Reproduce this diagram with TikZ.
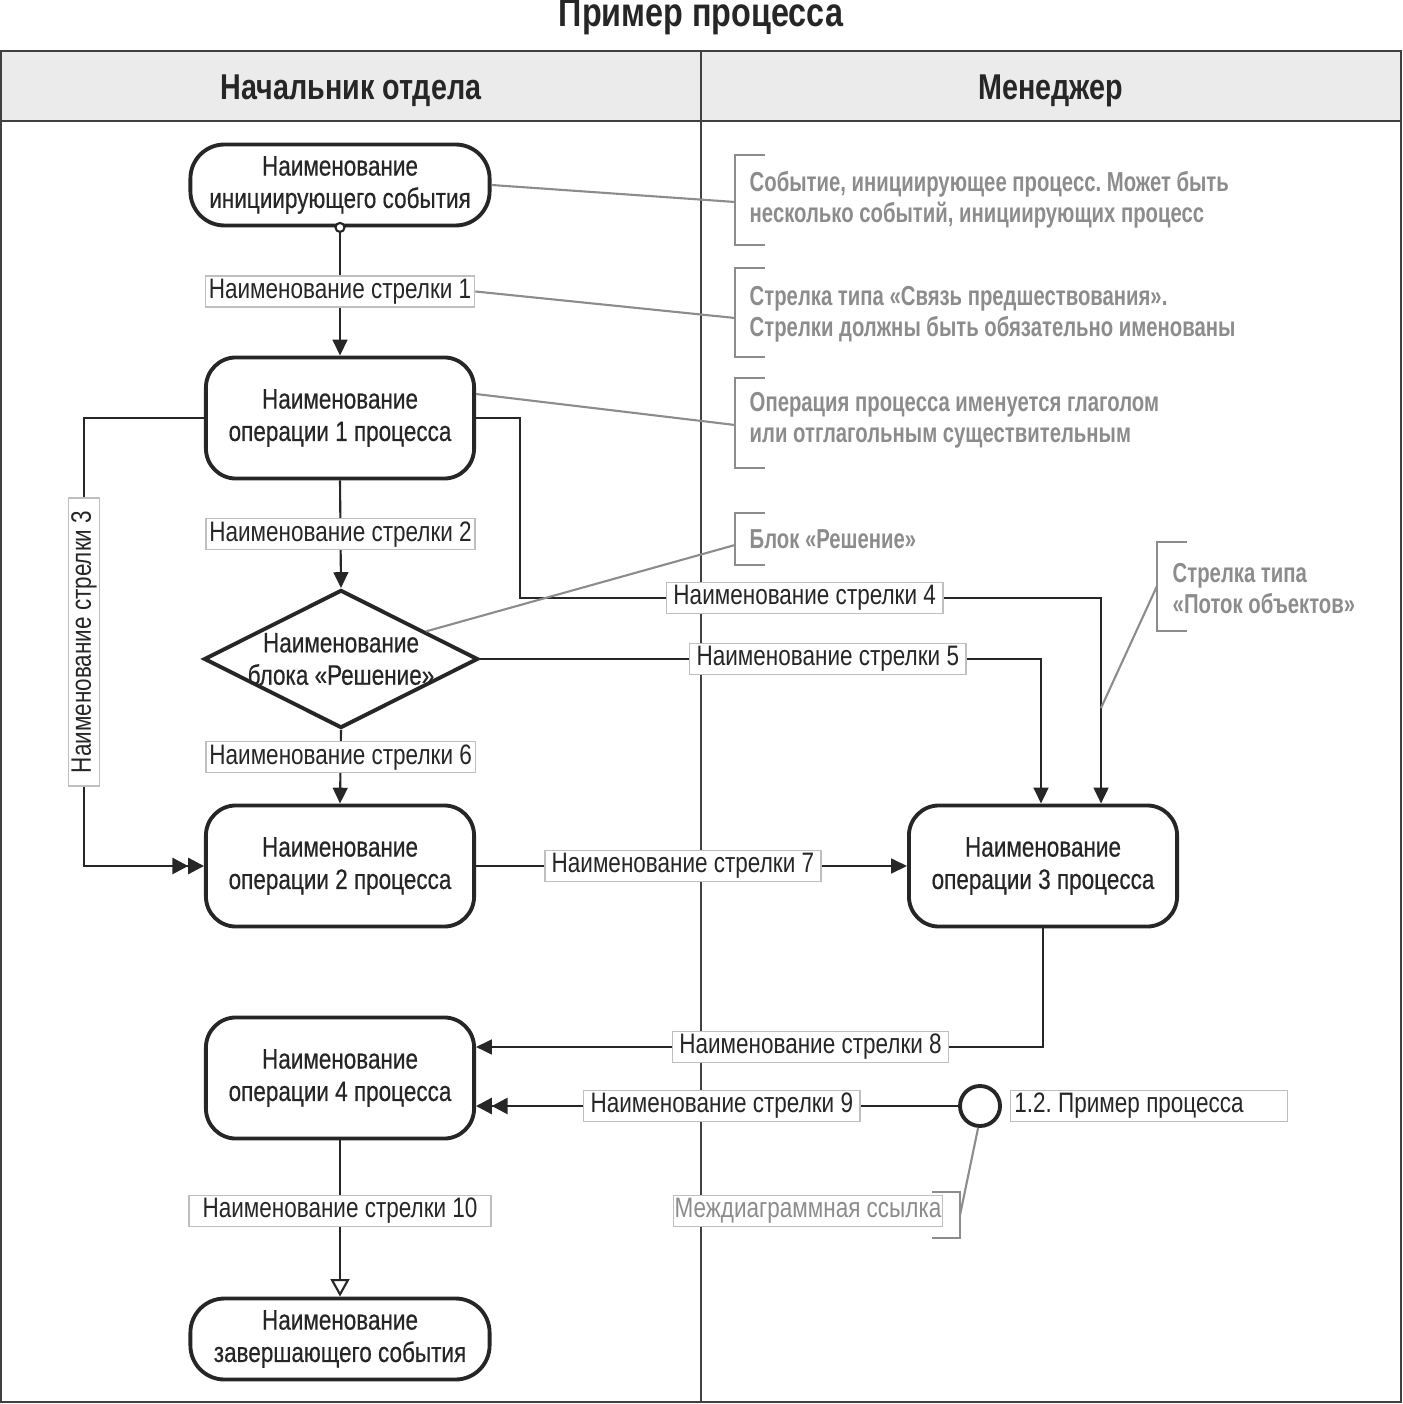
\documentclass[tikz,border=0pt]{standalone}
\usepackage{fontspec}
\setmainfont{Liberation Sans}[FakeStretch=0.8]
\newfontfamily\notefont{Liberation Sans}[FakeStretch=0.74]
\newfontfamily\blockfont{Liberation Sans}[FakeStretch=0.8, FakeBold=0.5]
\usetikzlibrary{arrows.meta, positioning, shapes.geometric, calc}
\frenchspacing

\begin{document}
\begin{tikzpicture}[x=0.01cm, y=-0.01cm,
  every node/.style={font=\fontsize{8}{8.8}\selectfont, align=center, text=black!85},
  proc/.style={draw=black!85, line width=1.1pt, rounded corners=0.3cm, minimum width=2.68cm, minimum height=1.21cm, font=\blockfont\fontsize{8}{9.2}\selectfont},
  event/.style={proc, rounded corners=0.34cm, minimum width=2.99cm, minimum height=0.76cm},
  decision/.style={draw=black!85, diamond, line width=1.1pt, inner sep=-4pt, minimum width=2.74cm, minimum height=1.38cm, aspect=2, font=\blockfont\fontsize{8}{9.2}\selectfont},
  lbl/.style={draw=black!25, fill=white, line width=0.4pt, inner sep=0pt, minimum width=2.76cm, minimum height=0.31cm},
  flow/.style={draw=black!85, line width=0.6pt, -{Triangle[length=4.5pt, width=4.2pt]}},
  flow2/.style={flow, -{Triangle[length=4.5pt, width=4.6pt] Triangle[length=4.5pt, width=4.6pt]}},
  note/.style={anchor=west, align=left, inner sep=0pt, text=black!45, font=\notefont\bfseries\fontsize{7.8}{8.8}\selectfont},
  brk/.style={draw=black!45, line width=0.7pt},
  link/.style={draw=black!45, line width=0.6pt},
  frame/.style={draw=black!75, line width=0.6pt},
  hdr/.style={font=\bfseries\fontsize{10.2}{12}\selectfont}]
  \useasboundingbox (0,0) rectangle (1402,1404);

  % swimlanes
  \node[font=\bfseries\fontsize{11.5}{13}\selectfont, inner sep=0pt] (title) at (701,17) {Пример процесса};
  \fill[black!8] (1,51) rectangle (1401,121);
  \draw[frame] (1,51) rectangle (1401,1402);
  \draw[frame] (1,121) -- (1401,121);
  \draw[frame] (701,51) -- (701,1402);
  \node[hdr] (lane1) at (351,91) {Начальник отдела};
  \node[hdr] (lane2) at (1051,91) {Менеджер};

  % blocks
  \node[event] (start) at (340,185) {Наименование\\инициирующего события};
  \node[proc] (op1) at (340,418) {Наименование\\операции 1 процесса};
  \node[decision] (dec) at (341,659) {Наименование\\блока «Решение»};
  \node[proc] (op2) at (340,866) {Наименование\\операции 2 процесса};
  \node[proc] (op3) at (1043,866) {Наименование\\операции 3 процесса};
  \node[proc] (op4) at (340,1078) {Наименование\\операции 4 процесса};
  \node[event] (finish) at (340,1339) {Наименование\\завершающего события};
  \node[draw=black!85, circle, line width=1.1pt, minimum size=0.4cm, inner sep=0pt] (ref) at (980,1106) {};
  \node[lbl, text width=2.69cm, align=flush left, inner xsep=0.04cm] (refname) at (1149,1106) {1.2. Пример процесса};

  % arrows
  \draw[flow] (start.south) -- node[lbl, minimum width=2.69cm] (lbl1) {Наименование стрелки 1} (op1.north);
  \node[draw=black!85, fill=white, circle, line width=0.6pt, minimum size=0.09cm, inner sep=0pt] (dot) at (start.south) {};
  \draw[flow] (op1.south) -- node[lbl, minimum width=2.69cm] (lbl2) {Наименование стрелки 2} (dec.north);
  \draw[flow] (dec.south) -- node[lbl, minimum width=2.69cm, pos=0.37] (lbl6) {Наименование стрелки 6} (op2.north);
  \draw[flow2] (op1.west) -| (84,642) node[lbl, rotate=90, minimum width=2.88cm] (lbl3) {Наименование стрелки 3} |- (op2.west);
  \draw[flow] (op1.east) -| (520,598) -| node[lbl, pos=0.245] (lbl4) {Наименование стрелки 4} ([xshift=0.58cm]op3.north);
  \draw[flow] (dec.east) -| node[lbl, pos=0.31] (lbl5) {Наименование стрелки 5} ([xshift=-0.02cm]op3.north);
  \draw[flow] (op2.east) -- node[lbl, pos=0.48] (lbl7) {Наименование стрелки 7} (op3.west);
  \draw[flow] (op3.south) |- node[lbl, pos=0.705] (lbl8) {Наименование стрелки 8} ([yshift=0.31cm]op4.east);
  \draw[flow2] (ref.west) -- node[lbl, pos=0.49] (lbl9) {Наименование стрелки 9} (ref.west -| op4.east);
  \draw[draw=black!85, line width=0.6pt, -{Triangle[open, length=5pt, width=5.4pt, fill=white]}] (op4.south) -- node[lbl, minimum width=3.02cm, pos=0.45] (lbl10) {Наименование стрелки 10} (finish.north);

  % comments
  \node[note] (c1) at (749,200) {Событие, инициирующее процесс. Может быть\\несколько событий, инициирующих процесс};
  \node[note] (c2) at (749,314) {Стрелка типа «Связь предшествования».\\Стрелки должны быть обязательно именованы};
  \node[note] (c3) at (749,420) {Операция процесса именуется глаголом\\или отглагольным существительным};
  \node[note] (c4) at (749,539) {Блок «Решение»};
  \node[note] (c5) at (1172,589) {Стрелка типа\\«Поток объектов»};
  \node[lbl, text=black!45, minimum width=2.69cm] (c6) at (808,1211) {Междиаграммная ссылка};
  \draw[brk] (765,155) -| (735,245) -- (765,245);
  \draw[brk] (765,268) -| (735,357) -- (765,357);
  \draw[brk] (765,378) -| (735,468) -- (765,468);
  \draw[brk] (765,513) -| (735,565) -- (765,565);
  \draw[brk] (1187,542) -| (1157,631) -- (1187,631);
  \draw[brk] (932,1192) -| (960,1238) -- (932,1238);
  \coordinate (b1) at (735,202);
  \coordinate (b2) at (735,318);
  \coordinate (b3) at (735,425);
  \coordinate (b4) at (735,545);
  \coordinate (b5) at (1157,586);
  \coordinate (b6) at (960,1215);
  \coordinate (f4) at (1101,708);
  \draw[link] (start.east) -- (b1);
  \draw[link] (lbl1.east) -- (b2);
  \draw[link] (op1.10) -- (b3);
  \draw[link] (dec.18) -- (b4);
  \draw[link] (f4) -- (b5);
  \draw[link] (ref.265) -- (b6);
\end{tikzpicture}
\end{document}
